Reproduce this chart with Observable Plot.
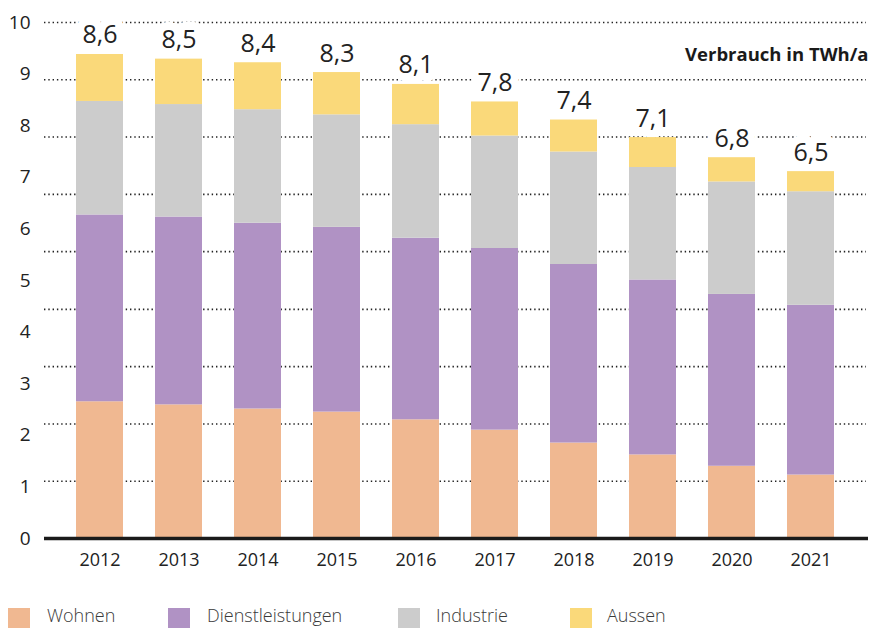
<!DOCTYPE html>
<html>
<head>
<meta charset="utf-8">
<script src="https://cdn.jsdelivr.net/npm/d3@7"></script>
<script src="https://cdn.jsdelivr.net/npm/@observablehq/plot@0.6"></script>
<style>
  html, body { margin: 0; padding: 0; background: #fff; }
  body { position: relative; width: 870px; height: 628px; overflow: hidden; font-family: "Open Sans", sans-serif; }
  #legend { position: absolute; left: 0; top: 0; width: 870px; height: 628px; pointer-events: none; }
  .sw { position: absolute; width: 22px; height: 20px; top: 608px; }
  .lt { position: absolute; top: 603px; font-size: 18px; font-weight: 300; color: #3a3a3a; line-height: 24px; white-space: nowrap; }
</style>
</head>
<body>
<div id="chart"></div>
<div id="legend"></div>
<script>
const years = ["2012", "2013", "2014", "2015", "2016", "2017", "2018", "2019", "2020", "2021"];
const categories = ["Wohnen", "Dienstleistungen", "Industrie", "Aussen"];
const colors = ["#f0b891", "#b092c4", "#cccccc", "#fad97a"];
const wohnen = [2.65, 2.59, 2.51, 2.45, 2.30, 2.10, 1.85, 1.62, 1.40, 1.23];
const dienstleistungen = [3.62, 3.64, 3.60, 3.58, 3.52, 3.52, 3.46, 3.39, 3.33, 3.29];
const industrie = [2.20, 2.18, 2.20, 2.18, 2.20, 2.18, 2.18, 2.18, 2.18, 2.20];
const aussen = [0.91, 0.88, 0.91, 0.82, 0.78, 0.66, 0.62, 0.58, 0.47, 0.39];
const totalLabels = ["8,6", "8,5", "8,4", "8,3", "8,1", "7,8", "7,4", "7,1", "6,8", "6,5"];
const yTicks = [0, 1, 2, 3, 4, 5, 6, 7, 8, 9, 10];
const gridLines = [1.11, 2.22, 3.33, 4.44, 5.56, 6.67, 7.78, 8.89, 10];
const unitLabel = "Verbrauch in TWh/a";

const series = [wohnen, dienstleistungen, industrie, aussen];
const rows = [];
years.forEach((yr, i) => {
  categories.forEach((c, k) => rows.push({year: yr, cat: c, value: series[k][i]}));
});
const tops = years.map((yr, i) => ({
  year: yr,
  top: wohnen[i] + dienstleistungen[i] + industrie[i] + aussen[i],
  label: totalLabels[i]
}));

const font = '"Open Sans", sans-serif';
const chart = Plot.plot({
  width: 870,
  height: 580,
  marginLeft: 44,
  marginRight: 4,
  marginTop: 22,
  marginBottom: 42,
  style: {fontFamily: font, color: "#222", background: "#fff"},
  x: {type: "band", domain: years, padding: 0.405, label: null},
  y: {domain: [0, 10], label: null},
  color: {domain: categories, range: colors},
  marks: [
    Plot.ruleY(gridLines, {stroke: "#222", strokeWidth: 1.6, strokeDasharray: "1.4,2.9"}),
    Plot.text(tops, {x: "year", y: "top", text: "label", dy: -11, lineAnchor: "bottom",
      fontSize: 25, fill: "#222", stroke: "white", strokeWidth: 16, strokeLinejoin: "round"}),
    Plot.barY(rows, {x: "year", y: "value", fill: "cat"}),
    Plot.ruleY([0], {stroke: "#1a1a1a", strokeWidth: 3.5, insetRight: -2}),
    Plot.axisY({ticks: yTicks, tickSize: 0, tickPadding: 14, fontSize: 19, fill: "#222", label: null}),
    Plot.axisX({tickSize: 0, tickPadding: 15, fontSize: 18, fill: "#222", label: null}),
    Plot.text([unitLabel], {frameAnchor: "top-right", dx: 2, dy: 25, fontSize: 18.5, fontWeight: "bold", fill: "#1a1a1a"})
  ]
});
document.getElementById("chart").appendChild(chart);

const legendX = [[8, 47], [168, 207], [398, 436], [570, 607]];
const legend = document.getElementById("legend");
categories.forEach((c, k) => {
  const sw = document.createElement("div");
  sw.className = "sw";
  sw.style.left = legendX[k][0] + "px";
  sw.style.background = colors[k];
  legend.appendChild(sw);
  const t = document.createElement("div");
  t.className = "lt";
  t.style.left = legendX[k][1] + "px";
  t.textContent = c;
  legend.appendChild(t);
});
</script>
</body>
</html>
